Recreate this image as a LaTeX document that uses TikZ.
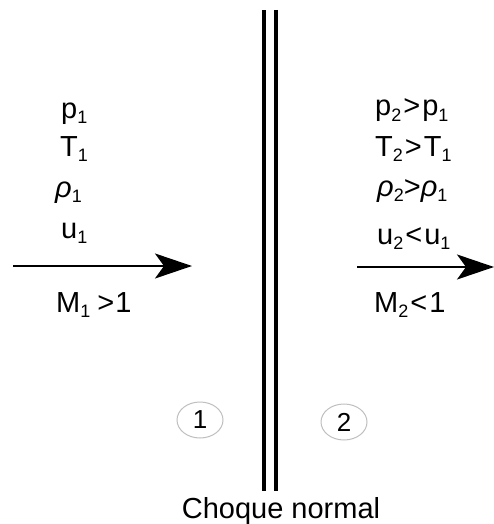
\documentclass[tikz,border=0pt]{standalone}
\usepackage{fontspec}
\setmainfont{Liberation Sans}
\usetikzlibrary{arrows.meta,shapes.geometric}
\newcommand{\sbx}[1]{\raisebox{-0.2em}{\fontsize{18}{18}\selectfont #1}}
\newcommand{\rh}{\textit{ρ}}
\newcommand{\gp}{\hspace{2pt}}
\tikzset{
  var/.style={anchor=base west, inner sep=0pt, font=\fontsize{29}{29}\selectfont},
  flow/.style={line width=2pt, -{Stealth[length=37pt,width=25pt,inset=9pt]}},
  wall/.style={line width=4pt},
  zone/.style={draw=black!25, line width=1pt, ellipse, minimum width=46pt, minimum height=36pt, inner sep=0pt, font=\fontsize{26}{26}\selectfont},
}
\begin{document}
\begin{tikzpicture}[x=1pt,y=-1pt]
\useasboundingbox (0,0) rectangle (493,524);
% shock
\coordinate (wa1) at (264,10);
\coordinate (wa2) at (264,491);
\coordinate (wb1) at (276,10);
\coordinate (wb2) at (276,491);
\draw[wall] (wa1) -- (wa2);
\draw[wall] (wb1) -- (wb2);
% left region
\node[var] (p1) at (61,118) {p\sbx{1}};
\node[var] (T1) at (60,156) {T\sbx{1}};
\node[var] (r1) at (55,197) {\rh\sbx{1}};
\node[var] (u1) at (61,238) {u\sbx{1}};
\node[var] (M1) at (56,312) {M\sbx{1}\hspace{7pt}>\hspace{1pt}1};
\coordinate (a1) at (13,266);
\coordinate (b1) at (192,266);
\draw[flow] (a1) -- (b1);
% right region
\node[var] (p2) at (375,116) {p\sbx{2}\gp>\gp p\sbx{1}};
\node[var] (T2) at (375,156) {T\sbx{2}\gp>\gp T\sbx{1}};
\node[var] (r2) at (377,196) {\rh\sbx{2}>\rh\sbx{1}};
\node[var] (u2) at (377,244) {u\sbx{2}\gp<\gp u\sbx{1}};
\node[var] (M2) at (374,312) {M\sbx{2}\gp<\gp 1};
\coordinate (a2) at (357,267);
\coordinate (b2) at (494,267);
\draw[flow] (a2) -- (b2);
% zones
\node[zone] (z1) at (200,420) {1};
\node[zone] (z2) at (344,422) {2};
% label
\node[anchor=base, inner sep=0pt, font=\fontsize{29}{29}\selectfont] (lab) at (281,518) {Choque normal};
\end{tikzpicture}
\end{document}
